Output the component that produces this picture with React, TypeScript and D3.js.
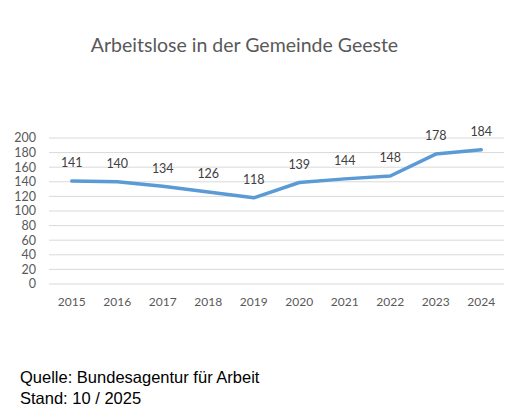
import React from "react";
import * as d3 from "d3";

const years = ["2015", "2016", "2017", "2018", "2019", "2020", "2021", "2022", "2023", "2024"];
const values = [141, 140, 134, 126, 118, 139, 144, 148, 178, 184];
const yTicks = [0, 20, 40, 60, 80, 100, 120, 140, 160, 180, 200];

const W = 512;
const H = 419;
const FONT = "Lato, 'Open Sans', sans-serif";

export default function App() {
  const x = d3.scaleBand<string>().domain(years).range([49, 504]);
  const y = d3.scaleLinear().domain([0, 200]).range([284, 138]);
  const cx = (d: string) => (x(d) ?? 0) + x.bandwidth() / 2;
  const line = d3
    .line<number>()
    .x((_, i) => cx(years[i]))
    .y((v) => y(v));

  return (
    <svg width={W} height={H} style={{ position: "absolute", left: 0, top: 0, background: "#fff" }}>
      <text x={244.5} y={51.5} textAnchor="middle" fontFamily={FONT} fontSize={19.5} fill="#595959">
        Arbeitslose in der Gemeinde Geeste
      </text>
      {yTicks.map((t) => (
        <g key={t}>
          <line x1={49} x2={504} y1={y(t)} y2={y(t)} stroke="#d9d9d9" strokeWidth={1} />
          <text x={36} y={y(t)} dy="0.35em" textAnchor="end" fontFamily={FONT} fontSize={12.5} fill="#595959">
            {t}
          </text>
        </g>
      ))}
      {years.map((yr) => (
        <text key={yr} x={cx(yr)} y={302} dy="0.35em" textAnchor="middle" fontFamily={FONT} fontSize={12} fill="#595959">
          {yr}
        </text>
      ))}
      <path d={line(values) ?? ""} fill="none" stroke="#5B9BD5" strokeWidth={3.5} strokeLinejoin="round" strokeLinecap="round" />
      {values.map((v, i) => (
        <text key={i} x={cx(years[i])} y={y(v) - 18} dy="0.35em" textAnchor="middle" fontFamily={FONT} fontSize={12.5} fill="#404040">
          {v}
        </text>
      ))}
      <text x={20} y={382.5} fontFamily="'Liberation Sans', Arial, sans-serif" fontSize={16.5} fill="#000">
        Quelle: Bundesagentur für Arbeit
      </text>
      <text x={20} y={403.5} fontFamily="'Liberation Sans', Arial, sans-serif" fontSize={16.5} fill="#000">
        Stand: 10 / 2025
      </text>
    </svg>
  );
}
